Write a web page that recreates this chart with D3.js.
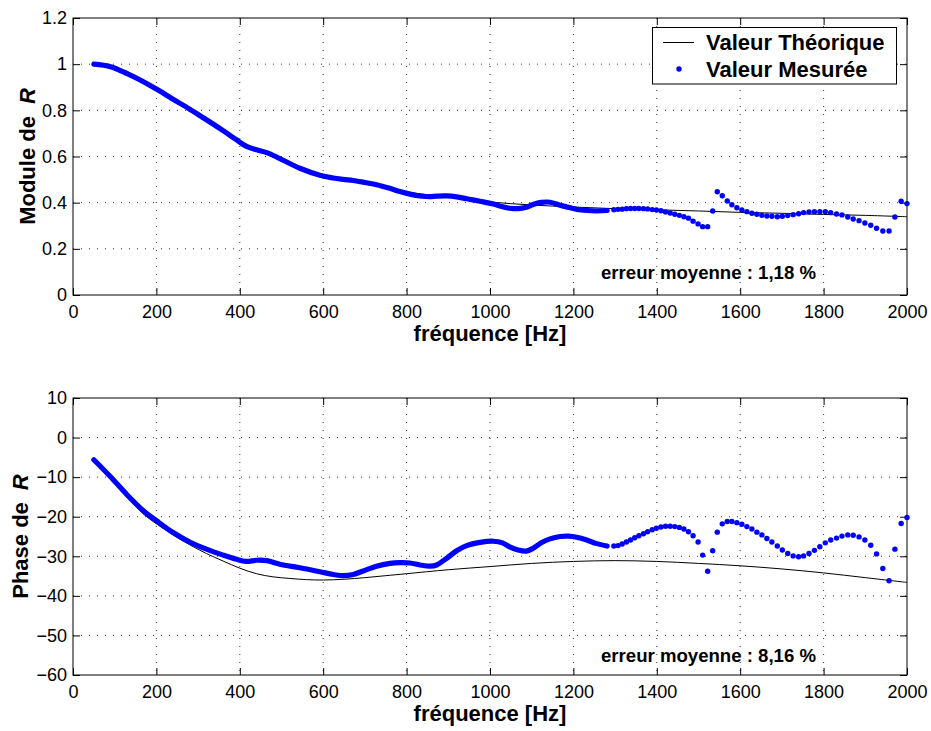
<!DOCTYPE html>
<html>
<head>
<meta charset="utf-8">
<script src="https://cdn.jsdelivr.net/npm/d3@7"></script>
<style>
body { margin: 0; background: #fff; }
text { font-family: "Liberation Sans", Arial, Helvetica, sans-serif; }
</style>
</head>
<body>
<script>
// theoretical curve
var freqTheo = [50, 90, 130, 170, 200, 240, 280, 320, 360, 400, 440, 480, 520, 560, 600, 650, 700, 750, 800, 900,
  1000, 1100, 1200, 1300, 1400, 1500, 1600, 1700, 1800, 1900, 2000];
var moduleTheo = [1.0, 0.989, 0.958, 0.921, 0.890, 0.846, 0.801, 0.755, 0.709, 0.664, 0.628, 0.597, 0.568, 0.541, 0.520,
  0.503, 0.489, 0.470, 0.447, 0.425, 0.403, 0.390, 0.381, 0.374, 0.369, 0.364, 0.358, 0.354, 0.349, 0.345, 0.339];
var phaseTheo = [-5.7, -10.1, -15.0, -19.4, -21.8, -24.6, -27.1, -29.3, -31.2, -33.0, -34.4, -35.2, -35.6, -35.9, -36.0,
  -35.8, -35.4, -34.9, -34.4, -33.4, -32.6, -31.8, -31.3, -31.1, -31.3, -31.8, -32.4, -33.2, -34.2, -35.4, -36.6];

// measured values, low band (points so close they merge into a thick line)
var freqDense = [50, 90, 130, 170, 200, 240, 280, 320, 360, 390, 415, 440, 465, 496, 544, 592, 624, 648, 672, 696,
  728, 760, 784, 808, 832, 856, 872, 896, 920, 944, 976, 1008, 1030, 1047, 1067, 1087, 1103, 1123, 1144, 1168,
  1188, 1208, 1232, 1256, 1281];
var moduleDense = [1.000, 0.989, 0.959, 0.923, 0.892, 0.848, 0.805, 0.759, 0.712, 0.675, 0.645, 0.629, 0.617, 0.591,
  0.549, 0.519, 0.507, 0.501, 0.496, 0.489, 0.478, 0.462, 0.448, 0.437, 0.429, 0.426, 0.428, 0.429, 0.425, 0.417,
  0.406, 0.394, 0.382, 0.376, 0.374, 0.380, 0.392, 0.401, 0.402, 0.389, 0.380, 0.371, 0.366, 0.364, 0.366];
var phaseDense = [-5.6, -9.9, -14.5, -18.6, -21.0, -24.0, -26.4, -28.2, -29.7, -30.7, -31.3, -31.0, -31.1, -32.0,
  -32.9, -33.9, -34.6, -34.9, -34.6, -33.7, -32.5, -31.8, -31.6, -31.7, -32.2, -32.5, -32.2, -30.5, -28.6, -27.3,
  -26.5, -26.2, -26.6, -27.6, -28.4, -28.7, -28.0, -26.6, -25.6, -25.0, -24.9, -25.2, -25.9, -26.8, -27.4];

// measured values, high band (separate dots)
var freqDots = [1297, 1307, 1317, 1327, 1337, 1347, 1357, 1368, 1378, 1389, 1399, 1410, 1421, 1432, 1443, 1454,
  1465, 1476, 1487, 1499, 1510, 1522, 1534, 1545, 1557, 1569, 1580, 1592, 1604, 1616, 1628, 1640, 1652, 1664,
  1676, 1689, 1701, 1714, 1727, 1740, 1752, 1765, 1778, 1791, 1804, 1817, 1831, 1844, 1858, 1871, 1885, 1899,
  1913, 1927, 1942, 1957, 1971, 1986, 2000];
var moduleDots = [0.369, 0.371, 0.372, 0.374, 0.375, 0.375, 0.375, 0.374, 0.373, 0.370, 0.368, 0.365, 0.360, 0.355,
  0.350, 0.345, 0.339, 0.333, 0.320, 0.308, 0.296, 0.296, 0.364, 0.447, 0.430, 0.407, 0.391, 0.378, 0.368, 0.361,
  0.354, 0.350, 0.345, 0.342, 0.341, 0.339, 0.341, 0.344, 0.348, 0.352, 0.357, 0.360, 0.361, 0.361, 0.361, 0.357,
  0.351, 0.347, 0.338, 0.329, 0.322, 0.312, 0.302, 0.289, 0.277, 0.277, 0.338, 0.406, 0.396];
var phaseDots = [-27.4, -27.3, -26.9, -26.4, -25.9, -25.3, -24.8, -24.3, -23.8, -23.3, -22.9, -22.6, -22.4, -22.4,
  -22.5, -22.7, -23.1, -23.8, -24.8, -26.4, -29.7, -33.8, -28.6, -23.9, -21.8, -21.2, -21.2, -21.5, -21.9, -22.5,
  -23.1, -23.9, -24.6, -25.5, -26.4, -27.4, -28.4, -29.3, -29.9, -30.1, -29.9, -29.3, -28.5, -27.6, -26.6, -25.9,
  -25.4, -24.9, -24.6, -24.7, -25.1, -25.9, -27.2, -29.4, -33.1, -36.2, -28.2, -21.7, -20.2];

var xTicks = [0, 200, 400, 600, 800, 1000, 1200, 1400, 1600, 1800, 2000];
var moduleTicks = [0, 0.2, 0.4, 0.6, 0.8, 1, 1.2];
var phaseTicks = [-60, -50, -40, -30, -20, -10, 0, 10];

var width = 931, height = 731;
var left = 73, right = 907;
var blue = "#0000ff";

var svg = d3.select("body").append("svg")
    .attr("width", width)
    .attr("height", height);

var x = d3.scaleLinear().domain([0, 2000]).range([left, right]);

function drawPanel(cfg) {
  var y = d3.scaleLinear().domain(cfg.domain).range([cfg.bottom, cfg.top]);
  var g = svg.append("g");

  // dotted grid
  g.selectAll(".gx").data(xTicks.slice(1, -1)).enter().append("line")
      .attr("x1", function(d) { return x(d); })
      .attr("x2", function(d) { return x(d); })
      .attr("y1", cfg.top).attr("y2", cfg.bottom)
      .attr("stroke", "#333").attr("stroke-width", 1)
      .attr("stroke-dasharray", "1,7");
  g.selectAll(".gy").data(cfg.ticks.slice(1, -1)).enter().append("line")
      .attr("y1", function(d) { return y(d); })
      .attr("y2", function(d) { return y(d); })
      .attr("x1", left).attr("x2", right)
      .attr("stroke", "#333").attr("stroke-width", 1)
      .attr("stroke-dasharray", "1,7");

  // axes, ticks pointing inward on all sides
  var fmt = d3.format("~g");
  g.append("g").attr("transform", "translate(0," + cfg.bottom + ")")
      .call(d3.axisBottom(x).tickValues(xTicks).tickSizeInner(-7).tickSizeOuter(0).tickPadding(10).tickFormat(fmt));
  g.append("g").attr("transform", "translate(" + left + ",0)")
      .call(d3.axisLeft(y).tickValues(cfg.ticks).tickSizeInner(-7).tickSizeOuter(0).tickPadding(6).tickFormat(fmt));
  g.append("g").attr("transform", "translate(0," + cfg.top + ")")
      .call(d3.axisTop(x).tickValues(xTicks).tickSizeInner(-7).tickSizeOuter(0).tickFormat(""));
  g.append("g").attr("transform", "translate(" + right + ",0)")
      .call(d3.axisRight(y).tickValues(cfg.ticks).tickSizeInner(-7).tickSizeOuter(0).tickFormat(""));
  g.selectAll(".domain").remove();
  g.selectAll(".tick line").attr("stroke", "#000");
  g.selectAll(".tick text")
      .attr("fill", "#000")
      .style("font-family", '"Liberation Sans", Arial, sans-serif')
      .style("font-size", "18px");

  g.append("rect")
      .attr("x", left).attr("y", cfg.top)
      .attr("width", right - left).attr("height", cfg.bottom - cfg.top)
      .attr("fill", "none").attr("stroke", "#000").attr("stroke-width", 1);

  // theoretical line
  var line = d3.line()
      .x(function(d) { return x(d[0]); })
      .y(function(d) { return y(d[1]); })
      .curve(d3.curveCatmullRom);
  g.append("path")
      .datum(d3.zip(freqTheo, cfg.theo))
      .attr("d", line)
      .attr("fill", "none").attr("stroke", "#000").attr("stroke-width", 1);

  // measured: merged points then separate dots
  g.append("path")
      .datum(d3.zip(freqDense, cfg.dense))
      .attr("d", line)
      .attr("fill", "none").attr("stroke", blue).attr("stroke-width", 5.2)
      .attr("stroke-linecap", "round").attr("stroke-linejoin", "round");
  g.selectAll(".pt").data(d3.zip(freqDots, cfg.dots)).enter().append("circle")
      .attr("cx", function(d) { return x(d[0]); })
      .attr("cy", function(d) { return y(d[1]); })
      .attr("r", 2.7)
      .attr("fill", blue);

  // labels
  svg.append("text")
      .attr("x", (left + right) / 2).attr("y", cfg.bottom + 46)
      .attr("text-anchor", "middle")
      .style("font-weight", "bold").style("font-size", "22px")
      .text("fréquence [Hz]");
  var yl = svg.append("text")
      .attr("transform", "translate(" + cfg.ylabelX + "," + (cfg.top + cfg.bottom) / 2 + ") rotate(-90)")
      .attr("text-anchor", "middle")
      .style("font-weight", "bold").style("font-size", "22px");
  yl.append("tspan").text(cfg.ylabel);
  yl.append("tspan").attr("dx", 12).style("font-style", "italic").text("R");

  svg.append("text")
      .attr("x", 601).attr("y", cfg.noteY)
      .style("font-weight", "bold").style("font-size", "18.6px")
      .text(cfg.note);
}

drawPanel({
  top: 18, bottom: 295, domain: [0, 1.2], ticks: moduleTicks,
  theo: moduleTheo, dense: moduleDense, dots: moduleDots,
  ylabel: "Module de", ylabelX: 35, note: "erreur moyenne : 1,18 %", noteY: 279
});
drawPanel({
  top: 398, bottom: 675, domain: [-60, 10], ticks: phaseTicks,
  theo: phaseTheo, dense: phaseDense, dots: phaseDots,
  ylabel: "Phase de", ylabelX: 28, note: "erreur moyenne : 8,16 %", noteY: 662
});

// legend
var lg = svg.append("g");
lg.append("rect")
    .attr("x", 652.5).attr("y", 27.5).attr("width", 244).attr("height", 56.5)
    .attr("fill", "#fff").attr("stroke", "#000").attr("stroke-width", 1);
lg.append("line")
    .attr("x1", 663).attr("x2", 694).attr("y1", 42.5).attr("y2", 42.5)
    .attr("stroke", "#000").attr("stroke-width", 1);
lg.append("circle").attr("cx", 679).attr("cy", 69).attr("r", 2.7).attr("fill", blue);
lg.append("text").attr("x", 706).attr("y", 50)
    .style("font-weight", "bold").style("font-size", "22px").text("Valeur Théorique");
lg.append("text").attr("x", 706).attr("y", 77)
    .style("font-weight", "bold").style("font-size", "22px").text("Valeur Mesurée");
</script>
</body>
</html>
